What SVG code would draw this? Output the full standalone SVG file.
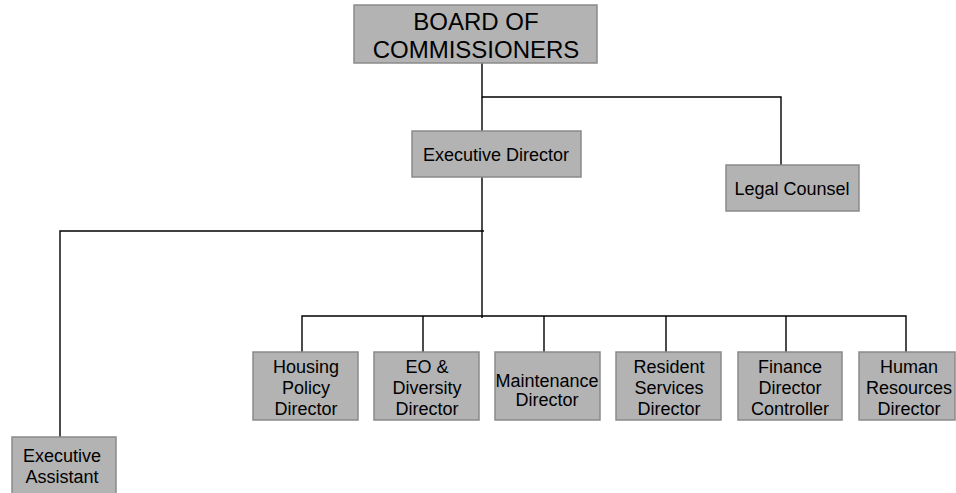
<svg xmlns="http://www.w3.org/2000/svg" width="956" height="493" viewBox="0 0 956 493">
<style>
.box{fill:#b3b3b3;stroke:#8a8a8a;stroke-width:1.5}
.t{font-family:"Liberation Sans",Arial,sans-serif;font-size:18px;fill:#000;text-anchor:middle}
.big{font-size:24px}
.c{stroke:#000;stroke-width:1.4;fill:none}
</style>
<rect width="956" height="493" fill="#fff"/>
<g id="connectors">
<path class="c" d="M482 63V97H781V165"/>
<path class="c" d="M482 97V131"/>
<path class="c" d="M482 177V318"/>
<path class="c" d="M484 231H60V437"/>
<path class="c" d="M302 352V316H906V352"/>
<path class="c" d="M423 316V352M544 316V352M666 316V352M786 316V352"/>
</g>
<g id="board">
<rect class="box" x="354" y="5" width="243" height="58"/>
<text class="t big" x="476" y="30">BOARD OF</text>
<text class="t big" x="476" y="58">COMMISSIONERS</text>
</g>
<g id="executive-director">
<rect class="box" x="412" y="131" width="169" height="46"/>
<text class="t" x="496" y="161">Executive Director</text>
</g>
<g id="legal-counsel">
<rect class="box" x="726" y="165" width="133" height="46"/>
<text class="t" x="792" y="195">Legal Counsel</text>
</g>
<g id="housing">
<rect class="box" x="253" y="352" width="105" height="68"/>
<text class="t" x="306" y="373">Housing</text>
<text class="t" x="306" y="394">Policy</text>
<text class="t" x="306" y="415">Director</text>
</g>
<g id="eo">
<rect class="box" x="374" y="352" width="105" height="68"/>
<text class="t" x="427" y="373">EO &amp;</text>
<text class="t" x="427" y="394">Diversity</text>
<text class="t" x="427" y="415">Director</text>
</g>
<g id="maintenance">
<rect class="box" x="495" y="352" width="105" height="68"/>
<text class="t" x="547" y="387">Maintenance</text>
<text class="t" x="547" y="406">Director</text>
</g>
<g id="resident">
<rect class="box" x="616" y="352" width="105" height="68"/>
<text class="t" x="669" y="373">Resident</text>
<text class="t" x="669" y="394">Services</text>
<text class="t" x="669" y="415">Director</text>
</g>
<g id="finance">
<rect class="box" x="738" y="352" width="104" height="68"/>
<text class="t" x="790" y="373">Finance</text>
<text class="t" x="790" y="394">Director</text>
<text class="t" x="790" y="415">Controller</text>
</g>
<g id="hr">
<rect class="box" x="859" y="352" width="96" height="68"/>
<text class="t" x="909" y="373">Human</text>
<text class="t" x="909" y="394">Resources</text>
<text class="t" x="909" y="415">Director</text>
</g>
<g id="executive-assistant">
<rect class="box" x="12" y="437" width="104" height="62"/>
<text class="t" x="62" y="462">Executive</text>
<text class="t" x="62" y="483">Assistant</text>
</g>
</svg>
